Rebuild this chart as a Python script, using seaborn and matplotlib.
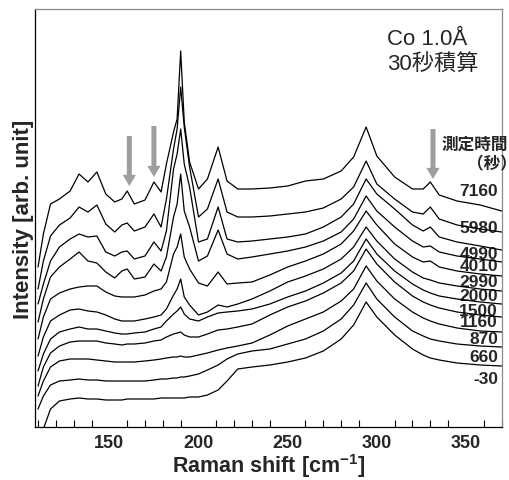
import numpy as np
import pandas as pd
import matplotlib
matplotlib.use('Agg')
import matplotlib.pyplot as plt
import seaborn as sns


############### data
# Raman shift sample points [cm-1]
shift = [110, 113, 117, 122, 128, 133, 138, 143, 148, 153, 157, 160, 164, 170, 175,
         179, 182, 186, 188, 190, 192, 195, 200, 205, 211, 216, 222, 230, 240, 250,
         260, 270, 280, 287, 294, 300, 310, 320, 326, 330, 335, 345, 358, 370]

# measurement time [s], top spectrum first
times = ['7160', '5980', '4990', '4010', '2990', '2000', '1500', '1160', '870', '660', '-30']

# stacked spectra (offsets included), arb. units
s7160 = [160, 193, 223, 228, 236, 253, 245, 255, 233, 225, 228, 236, 223, 227, 245,
         235, 263, 295, 308, 376, 305, 265, 238, 248, 280, 246, 238, 238, 239, 241,
         246, 248, 256, 270, 300, 271, 250, 238, 238, 245, 232, 226, 222, 216]
s5980 = [138, 166, 191, 202, 209, 220, 215, 222, 203, 195, 202, 204, 196, 200, 213,
         200, 228, 278, 298, 340, 300, 260, 210, 218, 248, 215, 210, 210, 211, 213,
         215, 219, 228, 240, 266, 243, 228, 215, 213, 220, 208, 202, 198, 195]
s4990 = [123, 143, 166, 180, 188, 193, 190, 191, 175, 171, 175, 176, 168, 171, 185,
         176, 196, 258, 273, 298, 263, 240, 185, 188, 220, 188, 185, 186, 188, 190,
         193, 200, 210, 223, 248, 233, 218, 202, 196, 200, 190, 185, 181, 177]
s4010 = [105, 128, 150, 160, 168, 175, 166, 164, 155, 149, 156, 158, 148, 150, 163,
         156, 170, 210, 223, 253, 216, 200, 166, 171, 197, 173, 168, 170, 173, 176,
         180, 186, 195, 208, 231, 216, 200, 186, 180, 181, 175, 171, 168, 165]
s2990 = [88, 110, 128, 134, 138, 140, 141, 141, 135, 131, 130, 130, 130, 132, 136,
         138, 145, 173, 180, 193, 170, 158, 144, 141, 155, 143, 144, 145, 152, 160,
         166, 173, 183, 196, 216, 202, 183, 170, 165, 166, 160, 156, 153, 151]
s2000 = [71, 90, 106, 112, 117, 118, 116, 115, 112, 108, 106, 106, 106, 108, 110,
         112, 118, 132, 138, 148, 130, 122, 112, 115, 122, 120, 123, 128, 136, 145,
         151, 158, 168, 180, 200, 186, 168, 155, 149, 147, 144, 141, 138, 136]
s1500 = [56, 73, 88, 95, 98, 100, 98, 98, 96, 94, 93, 93, 94, 95, 98,
         100, 106, 113, 116, 120, 113, 108, 106, 110, 114, 115, 116, 118, 123, 130,
         136, 144, 154, 166, 188, 173, 156, 143, 137, 134, 131, 128, 125, 123]
s1160 = [41, 60, 74, 81, 85, 86, 86, 86, 84, 83, 82, 83, 83, 84, 86,
         87, 90, 93, 94, 95, 92, 90, 90, 93, 97, 98, 100, 103, 112, 120,
         126, 134, 144, 156, 178, 163, 145, 131, 125, 122, 119, 115, 112, 110]
s870 = [31, 46, 60, 66, 68, 68, 68, 67, 66, 65, 65, 65, 65, 66, 67,
        68, 69, 70, 70, 71, 70, 70, 72, 74, 77, 79, 81, 84, 92, 101,
        108, 115, 126, 138, 161, 146, 128, 115, 109, 106, 103, 99, 96, 95]
s660 = [18, 31, 42, 46, 47, 48, 47, 47, 46, 46, 46, 46, 46, 46, 47,
        48, 48, 49, 49, 50, 50, 51, 53, 57, 62, 68, 73, 76, 78, 83,
        88, 96, 108, 122, 144, 128, 110, 96, 91, 88, 86, 83, 81, 80]
s_30 = [-17, -2, 18, 26, 28, 29, 28, 28, 27, 27, 27, 28, 28, 28, 28,
        29, 29, 29, 29, 29, 29, 30, 30, 32, 37, 46, 58, 60, 62, 65,
        69, 76, 88, 102, 125, 110, 92, 78, 72, 69, 67, 64, 62, 61]

spectra = [s7160, s5980, s4990, s4010, s2990, s2000, s1500, s1160, s870, s660, s_30]

# height of the time labels at the right end
label_y = [236, 199, 173, 161, 145, 131, 116, 105, 88, 70, 48]

# positions of the grey arrows (shift, tail, tip)
arrow_x = [161.2, 175.0, 331.5]
arrow_tail = [291, 301, 298]
arrow_tip = [241, 250, 248]


############### build long table
rows = []
for t, s in zip(times, spectra):
    for x, y in zip(shift, s):
        rows.append({'time': t, 'shift': x, 'intensity': y})
df = pd.DataFrame(rows)


############### plot
sns.set_style('white')
plt.rcParams['font.family'] = ['Liberation Sans', 'Noto Sans CJK JP', 'DejaVu Sans']
plt.rcParams['mathtext.fontset'] = 'custom'
plt.rcParams['mathtext.rm'] = 'Liberation Sans'
plt.rcParams['mathtext.bf'] = 'Liberation Sans:bold'

fig = plt.figure(figsize=(5.10, 4.81), dpi=100)
ax = fig.add_axes([35 / 510, 53 / 481, 467 / 510, 418 / 481])

sns.lineplot(data=df, x='shift', y='intensity', units='time', estimator=None,
             color='black', linewidth=0.9, legend=False, ax=ax, zorder=3)

for t, ly in zip(times, label_y):
    ax.text(368, ly, t, ha='right', va='center', fontsize=12.5,
            fontweight='bold', zorder=2)

for x, y0, y1 in zip(arrow_x, arrow_tail, arrow_tip):
    ax.annotate('', xy=(x, y1), xytext=(x, y0),
                arrowprops=dict(arrowstyle='simple,tail_width=0.36,head_width=0.95,head_length=0.8',
                                mutation_scale=10, color='#9e9e9e', lw=0,
                                shrinkA=0, shrinkB=0), zorder=4)

ax.set_xlim(108.3, 370.2)
ax.set_ylim(0, 418)
ax.set_xticks([150, 200, 250, 300, 350])
ax.set_xticks(np.arange(110, 371, 10), minor=True)
ax.set_yticks([])
ax.tick_params(axis='x', which='major', direction='in', length=9, width=0.8,
               labelsize=13, pad=5, color='black')
ax.tick_params(axis='x', which='minor', direction='in', length=5, width=0.8,
               color='black', bottom=True)
for lab in ax.get_xticklabels():
    lab.set_fontweight('bold')

ax.set_xlabel(r'Raman shift [cm$^{\mathbf{-1}}$]', fontsize=15.5,
              fontweight='bold', labelpad=0)
ax.set_ylabel('Intensity [arb. unit]', fontsize=16, fontweight='bold', labelpad=1)

for side in ['left', 'bottom']:
    ax.spines[side].set_color('black')
    ax.spines[side].set_linewidth(0.9)
for side in ['top', 'right']:
    ax.spines[side].set_color('#8a8a8a')
    ax.spines[side].set_linewidth(0.9)

fig.text(387 / 510, 1 - 45 / 481, 'Co 1.0Å', fontsize=16, ha='left', va='baseline')
fig.text(387 / 510, 1 - 70 / 481, '30秒積算', fontsize=16, ha='left', va='baseline')
fig.text(442 / 510, 1 - 145 / 481, '測定時間', fontsize=12, fontweight='bold',
         ha='left', va='center')
fig.text(467 / 510, 1 - 164 / 481, '（秒）', fontsize=12, fontweight='bold',
         ha='left', va='center')

fig.savefig('out.png', dpi=100)
